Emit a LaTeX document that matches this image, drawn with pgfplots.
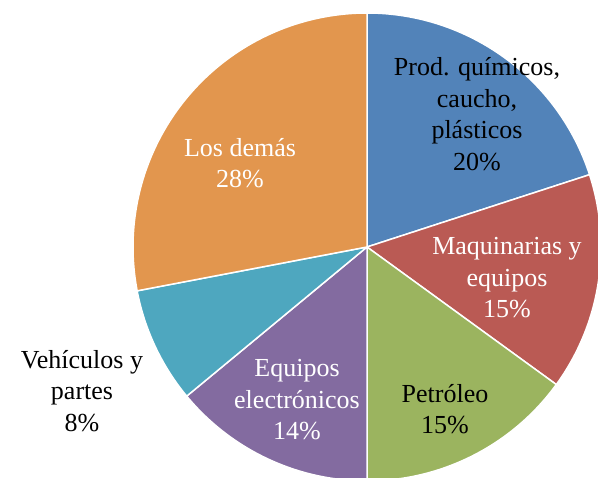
\documentclass[border=0pt]{standalone}
\usepackage{pgfplots}
\pgfplotsset{compat=1.18}
\usepackage{fontspec}
\setmainfont{Liberation Serif}
\definecolor{cA}{RGB}{82,131,185}
\definecolor{cB}{RGB}{186,90,84}
\definecolor{cC}{RGB}{155,180,95}
\definecolor{cD}{RGB}{131,107,160}
\definecolor{cE}{RGB}{78,167,191}
\definecolor{cF}{RGB}{226,150,78}
\begin{document}
\begin{tikzpicture}
\begin{axis}[
  width=598pt, height=478pt, scale only axis,
  xmin=0, xmax=598, ymin=0, ymax=478,
  hide axis, clip=true]
\gdef\sa{90}
\foreach \v/\c in {20/cA,15/cB,15/cC,14/cD,8/cE,28/cF}{
  \pgfmathsetmacro\e{\sa-3.6*\v}
  \edef\temp{\noexpand\filldraw[fill=\c, draw=white, line width=1.5pt, line join=round] (axis cs:367,231) -- ++(\sa:234pt) arc[start angle=\sa, end angle=\e, radius=234pt] -- cycle;}
  \temp
  \xdef\sa{\e}
}
\tikzset{lab/.style={align=center, font=\fontsize{26}{31.5}\selectfont}}
\node[lab, text=black] at (axis cs:477,364) {Prod. químicos,\\caucho,\\plásticos\\20\%};
\node[lab, text=white] at (axis cs:507,200) {Maquinarias y\\equipos\\15\%};
\node[lab, text=black] at (axis cs:445,69) {Petróleo\\15\%};
\node[lab, text=white] at (axis cs:297,78) {Equipos\\electrónicos\\14\%};
\node[lab, text=black] at (axis cs:82,87) {Vehículos y\\partes\\8\%};
\node[lab, text=white] at (axis cs:240,315) {Los demás\\28\%};
\end{axis}
\pgfresetboundingbox
\useasboundingbox (current axis.south west) rectangle (current axis.north east);
\end{tikzpicture}
\end{document}
